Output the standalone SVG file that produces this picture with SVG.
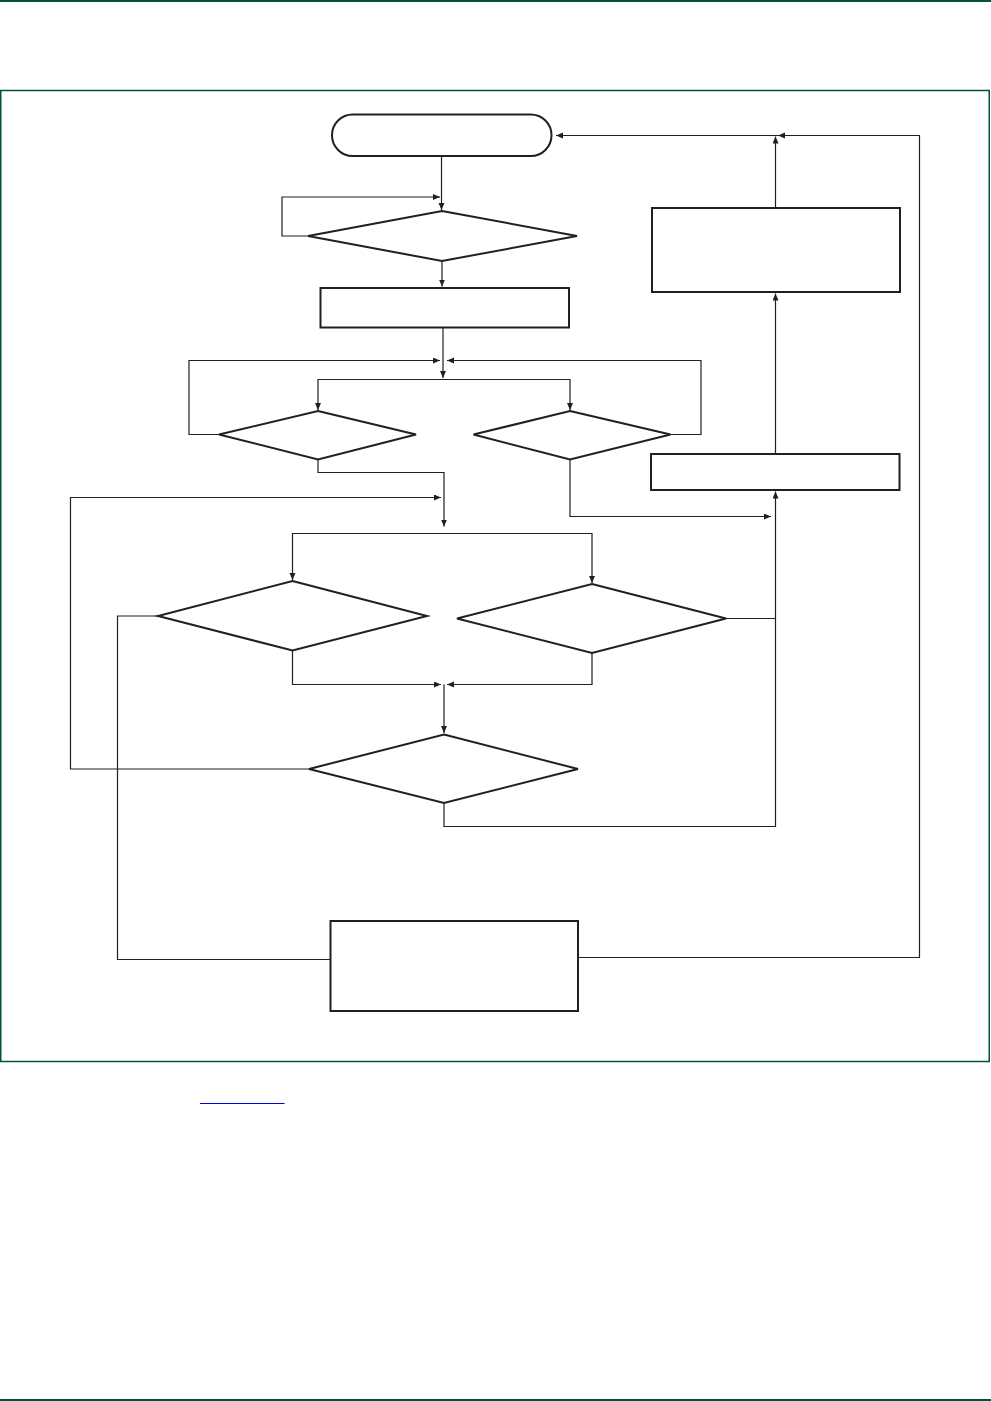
<svg xmlns="http://www.w3.org/2000/svg" width="991" height="1401" viewBox="0 0 991 1401">
<style>
.node{fill:#fff;stroke:#231f20;stroke-width:2}
.conn path{fill:none;stroke:#231f20;stroke-width:1.2}
.page{stroke:#00513f;fill:none}
</style>
<defs>
<marker id="ah" markerUnits="userSpaceOnUse" markerWidth="8" markerHeight="8" refX="7" refY="3" orient="auto">
<path d="M0,0 L7,3 L0,6 z" fill="#231f20"/>
</marker>
</defs>
<rect width="991" height="1401" fill="#fff"/>
<g id="page">
<line class="page" x1="0" y1="1" x2="991" y2="1" stroke-width="2"/>
<rect class="page" x="0.75" y="90.5" width="988.5" height="971" stroke-width="1.5"/>
<line class="page" x1="0" y1="1400" x2="991" y2="1400" stroke-width="2"/>
<line x1="200" y1="1103.5" x2="284.5" y2="1103.5" stroke="#0000e0" stroke-width="1"/>
</g>
<g class="conn" id="connectors">
<path d="M441.5,156 V210" marker-end="url(#ah)"/>
<path d="M308,236 H282 V197 H440" marker-end="url(#ah)"/>
<path d="M442,261 V286.5" marker-end="url(#ah)"/>
<path d="M443,328 V378" marker-end="url(#ah)"/>
<path d="M219,434.5 H189 V360.5 H440" marker-end="url(#ah)"/>
<path d="M670.5,434.5 H701 V360.5 H447" marker-end="url(#ah)"/>
<path d="M443,379.5 H318 V410" marker-end="url(#ah)"/>
<path d="M443,379.5 H570 V410" marker-end="url(#ah)"/>
<path d="M318,459.5 V472.5 H444 V526.5" marker-end="url(#ah)"/>
<path d="M309,769 H70.5 V497.5 H441" marker-end="url(#ah)"/>
<path d="M570,459.5 V516.5 H771" marker-end="url(#ah)"/>
<path d="M444,533.5 H292.5 V580" marker-end="url(#ah)"/>
<path d="M444,533.5 H592 V583" marker-end="url(#ah)"/>
<path d="M292.5,650.5 V684.5 H441" marker-end="url(#ah)"/>
<path d="M592,653 V684.5 H447" marker-end="url(#ah)"/>
<path d="M444,684.5 V733" marker-end="url(#ah)"/>
<path d="M726,618.5 H775.5"/>
<path d="M444,803 V826.5 H775.5 V491.5" marker-end="url(#ah)"/>
<path d="M775.5,454 V293.5" marker-end="url(#ah)"/>
<path d="M775.5,208 V136.5" marker-end="url(#ah)"/>
<path d="M578,957.5 H919.5 V135.5 H778" marker-end="url(#ah)"/>
<path d="M778,135.5 H556" marker-end="url(#ah)"/>
<path d="M330,959.5 H117.5 V616 H158"/>
</g>
<g id="start"><rect class="node" x="332" y="114.5" width="219.5" height="41.5" rx="20.75"/></g>
<g id="dec1"><polygon class="node" points="442,211 577,236 442,261 308,236"/></g>
<g id="proc1"><rect class="node" x="320.5" y="288" width="248.5" height="39.5"/></g>
<g id="dec2"><polygon class="node" points="318,411 416,434.5 318,459.5 219,434.5"/></g>
<g id="dec3"><polygon class="node" points="570,411 670.5,434.5 570,459.5 473.5,434.5"/></g>
<g id="dec4"><polygon class="node" points="292.5,581 427,616 292.5,650.5 158,616"/></g>
<g id="dec5"><polygon class="node" points="592,584 726,618.5 592,653 457,618.5"/></g>
<g id="dec6"><polygon class="node" points="444,734.5 578,769 444,803 309,769"/></g>
<g id="proc2"><rect class="node" x="651" y="454" width="248.5" height="36"/></g>
<g id="proc3"><rect class="node" x="652" y="208" width="248" height="84"/></g>
<g id="proc4"><rect class="node" x="330.5" y="921" width="247.5" height="90"/></g>
</svg>
